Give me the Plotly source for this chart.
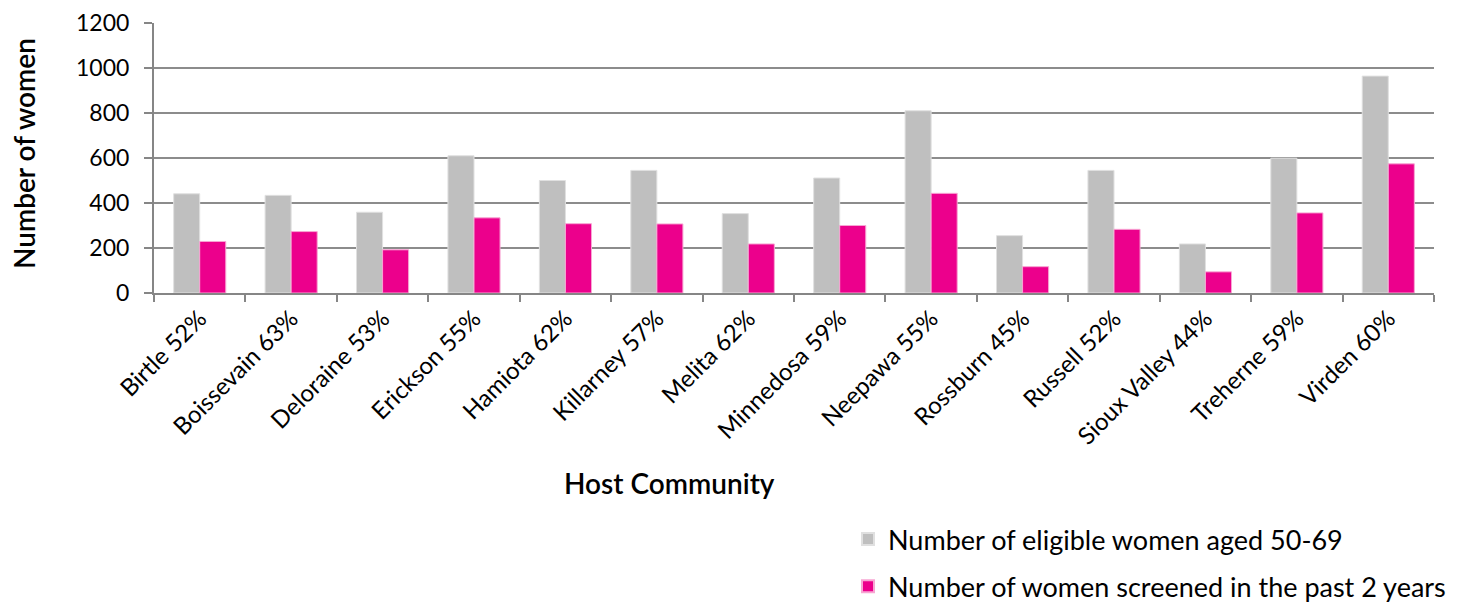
import plotly.graph_objects as go

categories = ["Birtle 52%", "Boissevain 63%", "Deloraine 53%", "Erickson 55%", "Hamiota 62%",
              "Killarney 57%", "Melita 62%", "Minnedosa 59%", "Neepawa 55%", "Rossburn 45%",
              "Russell 52%", "Sioux Valley 44%", "Treherne 59%", "Virden 60%"]
eligible = [441, 434, 359, 610, 500, 545, 353, 511, 810, 255, 545, 218, 599, 964]
screened = [229, 273, 192, 334, 308, 307, 218, 300, 443, 117, 283, 94, 356, 574]
y_ticks = [0, 200, 400, 600, 800, 1000, 1200]

FONT = "Lato"
W, H = 1468, 602
L, R, T, B = 146, 42, 15, 317
pw, ph = W - L - R, H - T - B

def px(x):
    return (x - L) / pw

def py(y):
    return (H - B - y) / ph

fig = go.Figure()
fig.add_trace(go.Bar(x=categories, y=eligible, name="Number of eligible women aged 50-69",
                     legendgroup="a",
                     marker=dict(color="#BFBFBF", line=dict(color="#E0E0E0", width=1))))
fig.add_trace(go.Bar(x=categories, y=screened, name="Number of women screened in the past 2 years",
                     legendgroup="b",
                     marker=dict(color="#EC008C", line=dict(color="#F7A6D3", width=1))))

fig.update_layout(
    width=W, height=H,
    margin=dict(l=L, r=R, t=T, b=B, autoexpand=False),
    paper_bgcolor="white", plot_bgcolor="white",
    barmode="group", bargap=0.43, bargroupgap=0,
    font=dict(family=FONT, size=23, color="black"),
    showlegend=True,
    legend=dict(
        x=px(840), xanchor="left",
        y=py(507), yanchor="top",
        orientation="v", font=dict(size=27, family=FONT),
        tracegroupgap=9, itemsizing="constant",
        traceorder="grouped",
    ),
)
fig.update_xaxes(
    type="category", tickangle=-45, tickfont=dict(size=24, family=FONT),
    showline=True, linecolor="#868686", linewidth=2,
    ticks="outside", tickson="boundaries", ticklen=7, tickcolor="#868686", tickwidth=2,
    showgrid=False, mirror=False,
)
fig.update_yaxes(
    range=[0, 1200], tickvals=y_ticks, ticktext=[str(v) for v in y_ticks],
    tickfont=dict(size=23, family=FONT), ticklabeloverflow="allow",
    ticklabelstandoff=10,
    showline=True, linecolor="#868686", linewidth=2,
    ticks="outside", ticklen=8, tickcolor="#868686", tickwidth=2,
    showgrid=True, gridcolor="#8C8C8C", gridwidth=2,
    zeroline=False,
)
fig.add_annotation(
    text="Number of women", xref="paper", yref="paper",
    x=px(16), y=py(146), xanchor="center", yanchor="middle",
    textangle=-90, showarrow=False, font=dict(size=28, family=FONT, weight=600),
)
fig.add_annotation(
    text="Host Community", xref="paper", yref="paper",
    x=px(661), y=py(475), xanchor="center", yanchor="middle",
    showarrow=False, font=dict(size=28, family=FONT, weight=600),
)

fig.write_html("out.html")
